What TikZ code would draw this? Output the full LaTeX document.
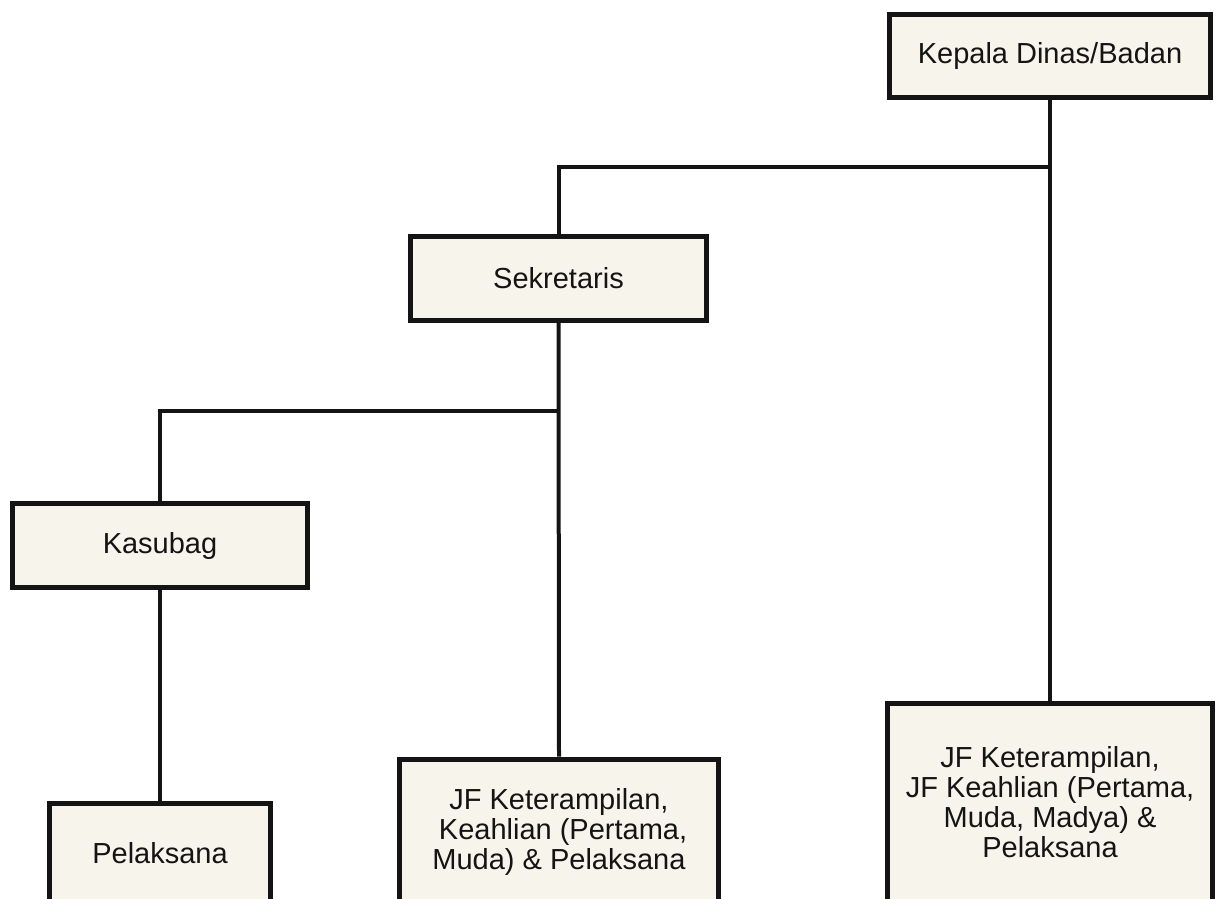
\documentclass[tikz,border=0pt]{standalone}
\usepackage{fontspec}
\setmainfont{Liberation Sans}
\definecolor{boxfill}{RGB}{247,244,236}
\definecolor{ink}{RGB}{20,20,20}
\begin{document}
\begin{tikzpicture}[x=1pt,y=-1pt,
  orgbox/.style={draw=ink, fill=boxfill, line width=5pt, rectangle,
    inner sep=0pt, align=center, text=ink,
    font=\fontsize{29}{30}\selectfont},
  link/.style={draw=ink, line width=4pt}]
  \useasboundingbox (0,0) rectangle (1218,899);
  \clip (0,0) rectangle (1218,899);
  \fill[white] (0,0) rectangle (1218,899);

  % connectors first, boxes drawn over them
  \coordinate (kepc) at (1050,56);
  \coordinate (sekc) at (558.5,278.5);
  \coordinate (kasc) at (160,545.5);

  % boxes
  \node[orgbox, minimum width=321pt, minimum height=83pt] (kepala) at (kepc) {Kepala Dinas/Badan};
  \node[orgbox, minimum width=296pt, minimum height=84pt] (sekretaris) at (sekc) {Sekretaris};
  \node[orgbox, minimum width=295pt, minimum height=84pt] (kasubag) at (kasc) {Kasubag};
  \node[orgbox, minimum width=221pt, minimum height=100pt] (pelaksana) at (160,853) {Pelaksana};
  \node[orgbox, minimum width=319pt, minimum height=146pt] (jfsek) at (559,832)
    {JF Keterampilan,\\ \ Keahlian (Pertama,\\Muda) \& Pelaksana};
  \node[orgbox, minimum width=325pt, minimum height=198pt] (jfkep) at (1050,802)
    {JF Keterampilan,\\JF Keahlian (Pertama,\\Muda, Madya) \&\\Pelaksana};

  % branch points
  \coordinate (kepbranch) at (kepala.south |- 0,167);
  \coordinate (sekbranch) at (sekretaris.south |- 0,411);

  % connectors
  \draw[link] (kepala.south) -- (jfkep.north);
  \draw[link] (kepbranch) -| (sekretaris.north);
  \draw[link] (sekretaris.south) -- (jfsek.north);
  \draw[link] (sekbranch) -| (kasubag.north);
  \draw[link] (kasubag.south) -- (pelaksana.north);
\end{tikzpicture}
\end{document}
